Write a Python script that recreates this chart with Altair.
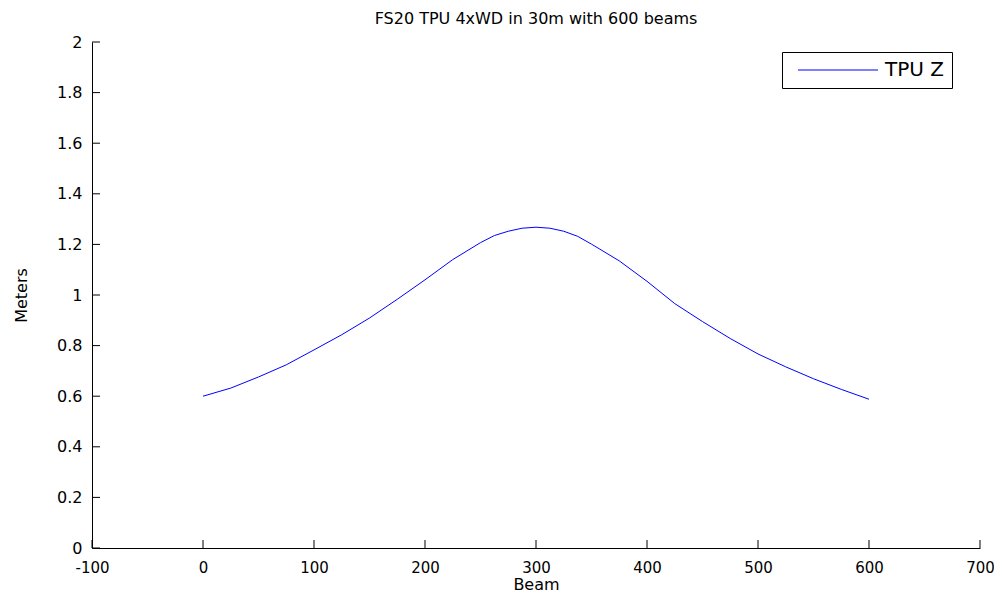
import altair as alt
import pandas as pd

# Data
beam = [0, 25, 50, 75, 100, 125, 150, 175, 200, 225, 250, 262.5, 275, 287.5, 300,
        312.5, 325, 337.5, 350, 375, 400, 425, 450, 475, 500, 525, 550, 575, 600]
tpu_z = [0.600, 0.632, 0.676, 0.724, 0.783, 0.843, 0.909, 0.983, 1.060, 1.140, 1.207, 1.235,
         1.252, 1.264, 1.268, 1.264, 1.252, 1.232, 1.201, 1.135, 1.054, 0.966, 0.895,
         0.828, 0.767, 0.716, 0.669, 0.627, 0.588]
series_name = "TPU Z"
x_ticks = [-100, 0, 100, 200, 300, 400, 500, 600, 700]
y_ticks = [0, 0.2, 0.4, 0.6, 0.8, 1, 1.2, 1.4, 1.6, 1.8, 2]

W, H = 888, 506
FONT = "DejaVu Sans"

df = pd.DataFrame({"Beam": beam, "Meters": tpu_z, "series": [series_name] * len(beam)})
xt = pd.DataFrame({"t": x_ticks})
yt = pd.DataFrame({"t": y_ticks})

xscale = alt.Scale(domain=[-100, 700], nice=False, zero=False)
yscale = alt.Scale(domain=[0, 2], nice=False)

line = alt.Chart(df).mark_line(strokeWidth=1).encode(
    x=alt.X("Beam:Q", scale=xscale,
            axis=alt.Axis(values=x_ticks, title="Beam", tickSize=0, grid=False,
                          labelExpr="replace(datum.label, '\u2212', '-')",
                          labelFlush=False, labelOverlap=False, labelFontSize=15,
                          labelPadding=12, titlePadding=1)),
    y=alt.Y("Meters:Q", scale=yscale,
            axis=alt.Axis(values=y_ticks, title="Meters", tickSize=0, grid=False,
                          format=".1~f", labelPadding=10, titlePadding=27,
                          labelFlush=False, labelOverlap=False)),
    color=alt.Color("series:N",
                    scale=alt.Scale(domain=[series_name], range=["#0000ff"]),
                    legend=alt.Legend(title=None, orient="none", legendX=690, legendY=10,
                                      symbolType="stroke", symbolSize=6400,
                                      symbolStrokeWidth=1.2, clipHeight=20,
                                      symbolOffset=7,
                                      strokeColor="black", fillColor="white",
                                      padding=8, labelFontSize=20, labelFont=FONT,
                                      labelColor="black", labelOffset=6)),
)

xtick_rules = alt.Chart(xt).mark_rule(color="black", strokeWidth=1).encode(
    x=alt.X("t:Q", scale=xscale),
    y=alt.value(H),
    y2=alt.value(H - 8),
)
ytick_rules = alt.Chart(yt).mark_rule(color="black", strokeWidth=1).encode(
    y=alt.Y("t:Q", scale=yscale),
    x=alt.value(0),
    x2=alt.value(8),
)

chart = alt.layer(line, xtick_rules, ytick_rules).properties(
    width=W, height=H,
    title=alt.Title("FS20 TPU 4xWD in 30m with 600 beams", fontSize=16, font=FONT,
                    fontWeight="normal", color="black", anchor="middle", offset=7),
    autosize=alt.AutoSizeParams(type="none"),
    padding={"left": 84, "top": 34, "right": 14, "bottom": 50},
).configure_view(stroke=None).configure_axis(
    domainColor="black", labelColor="black", titleColor="black",
    labelFont=FONT, titleFont=FONT, labelFontSize=16, titleFontSize=16,
    titleFontWeight="normal",
)

chart.save("out.html", embed_options={"renderer": "svg", "actions": False})
